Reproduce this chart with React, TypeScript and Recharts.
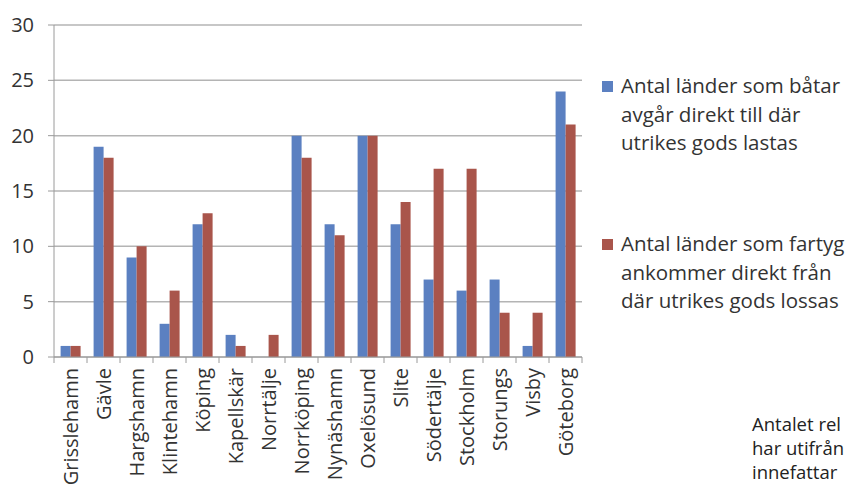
import React from "react";
import { BarChart, Bar, XAxis, YAxis, CartesianGrid } from "recharts";

const categories = [
  "Grisslehamn", "Gävle", "Hargshamn", "Klintehamn", "Köping", "Kapellskär",
  "Norrtälje", "Norrköping", "Nynäshamn", "Oxelösund", "Slite", "Södertälje",
  "Stockholm", "Storungs", "Visby", "Göteborg",
];
const departures = [1, 19, 9, 3, 12, 2, 0, 20, 12, 20, 12, 7, 6, 7, 1, 24];
const arrivals = [1, 18, 10, 6, 13, 1, 2, 18, 11, 20, 14, 17, 17, 4, 4, 21];
const yTicks = [0, 5, 10, 15, 20, 25, 30];

const seriesNames = [
  ["Antal länder som båtar", "avgår direkt till där", "utrikes gods lastas"],
  ["Antal länder som fartyg", "ankommer direkt från", "där utrikes gods lossas"],
];
const footnoteLines = ["Antalet rel", "har utifrån", "innefattar"];

const data = categories.map((name, i) => ({ name, dep: departures[i], arr: arrivals[i] }));

const W = 845;
const H = 486;
const M = { top: 25, right: 263, bottom: 0, left: 0 };
const YW = 54;
const XH = 129;
const STEP = (W - M.left - M.right - YW) / categories.length;

const BLUE = "#5B80C1";
const RED = "#A9554B";
const GRID = "#B4B4B4";
const AXIS = "#9A9A9A";
const TEXT = "#333333";
const FONT = "'Open Sans', sans-serif";

function XTick(props: any) {
  const { x, y, payload, index } = props;
  const lx = x - STEP / 2;
  const isLast = index === categories.length - 1;
  const ty = y + 11;
  return (
    <g>
      <line x1={lx} y1={y} x2={lx} y2={y + 6} stroke={AXIS} strokeWidth={1} />
      {isLast && <line x1={x + STEP / 2} y1={y} x2={x + STEP / 2} y2={y + 6} stroke={AXIS} strokeWidth={1} />}
      <text
        x={0}
        y={0}
        transform={`translate(${x}, ${ty}) rotate(-90)`}
        textAnchor="end"
        dy="0.36em"
        fill={TEXT}
        fontSize={20}
        fontFamily={FONT}
      >
        {payload.value}
      </text>
    </g>
  );
}

export default function App() {
  return (
    <div style={{ position: "absolute", left: 0, top: 0, width: W, height: H, background: "#fff", overflow: "hidden" }}>
      <BarChart width={W} height={H} data={data} margin={M} barCategoryGap="20%" barGap={0}>
        <CartesianGrid vertical={false} stroke={GRID} strokeWidth={1.5} />
        <XAxis
          dataKey="name"
          interval={0}
          height={XH}
          tickLine={false}
          tickSize={0}
          tickMargin={0}
          axisLine={{ stroke: AXIS }}
          tick={<XTick />}
        />
        <YAxis
          width={YW}
          domain={[0, 30]}
          ticks={yTicks}
          interval={0}
          tickSize={6}
          tickMargin={14}
          axisLine={{ stroke: AXIS }}
          tickLine={{ stroke: AXIS }}
          tick={{ fill: TEXT, fontSize: 20, fontFamily: FONT }}
        />
        <Bar dataKey="dep" name={seriesNames[0].join(" ")} fill={BLUE} isAnimationActive={false} />
        <Bar dataKey="arr" name={seriesNames[1].join(" ")} fill={RED} isAnimationActive={false} />
      </BarChart>

      {seriesNames.map((lines, i) => (
        <div
          key={i}
          style={{
            position: "absolute",
            left: 602,
            top: i === 0 ? 71 : 229,
            fontFamily: FONT,
            fontSize: 20.5,
            lineHeight: "28.5px",
            color: TEXT,
            whiteSpace: "nowrap",
          }}
        >
          <span
            style={{
              position: "absolute",
              left: 0,
              top: 10,
              width: 11,
              height: 11,
              background: i === 0 ? BLUE : RED,
            }}
          />
          <div style={{ marginLeft: 19 }}>
            {lines.map((l, j) => (
              <div key={j}>{l}</div>
            ))}
          </div>
        </div>
      ))}

      <div
        style={{
          position: "absolute",
          left: 752,
          top: 412,
          fontFamily: FONT,
          fontSize: 18.5,
          lineHeight: "24px",
          color: "#222",
          whiteSpace: "nowrap",
        }}
      >
        {footnoteLines.map((l, j) => (
          <div key={j}>{l}</div>
        ))}
      </div>
    </div>
  );
}
